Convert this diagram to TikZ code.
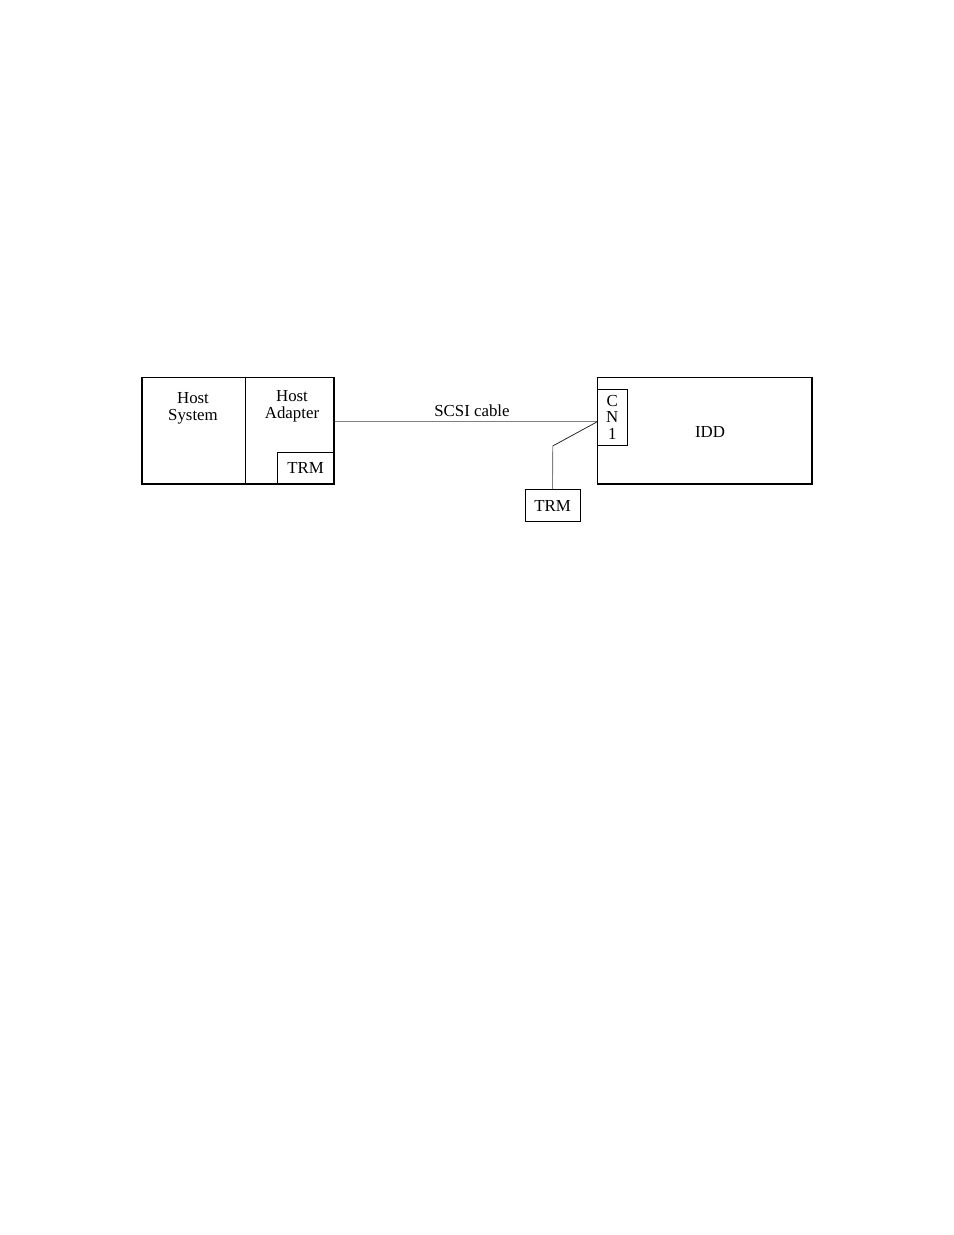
\documentclass[tikz,border=0pt]{standalone}
\usepackage{fontspec}
\setmainfont{Liberation Serif}
\tikzstyle{unit box}=[draw,line width=0.9pt,inner sep=0pt]
\tikzstyle{small box}=[draw,line width=0.6pt,inner sep=0pt,font=\fontsize{10.8}{11.2}\selectfont,align=center]
\tikzstyle{cable}=[draw,line width=0.55pt,black!50]
\tikzstyle{caption}=[font=\fontsize{10.8}{11}\selectfont,align=center,inner sep=0pt]

\begin{document}
\begin{tikzpicture}[x=0.6415pt,y=-0.6415pt]
\useasboundingbox (0,0) rectangle (954,1235);
% the two units
\node[unit box,minimum width=123.4pt,minimum height=68.4pt] (host) at (238,430.7) {};
\node[unit box,minimum width=137.7pt,minimum height=68.4pt] (idd) at (704.7,430.7) {};
\coordinate (div) at (245,0);
\draw[line width=0.5pt] (host.north -| div) -- (host.south -| div);
% small boxes
\node[small box,minimum width=36.4pt,minimum height=20.1pt] (trmhost) at (305.7,468.3) {\raisebox{-1pt}{TRM}};
\node[small box,minimum width=19.2pt,minimum height=35.7pt] (cn) at (612.3,417.2) {\raisebox{-1pt}{C}\\N\\1};
\node[small box,minimum width=35.3pt,minimum height=20.8pt] (trmcable) at (552.5,505.5) {\raisebox{-1pt}{TRM}};
% texts
\foreach \pos/\name/\text in {{(193,408.5)/sys/Host\\System}, {(292,406)/adapter/Host\\Adapter},
                              {(472,410.5)/scsi/SCSI cable}, {(710,432)/iddtext/IDD}}{
  \node[caption] (\name) at \pos {\text};
}
% cable
\coordinate (tap) at (597.3,421.7);
\coordinate (bend) at (552.7,446);
\path[cable] (host.east |- tap) -- (tap);
\path[draw,line width=0.5pt,black!85] (tap) -- (bend);
\path[cable] (bend) -- (trmcable.north);
\end{tikzpicture}
\end{document}
